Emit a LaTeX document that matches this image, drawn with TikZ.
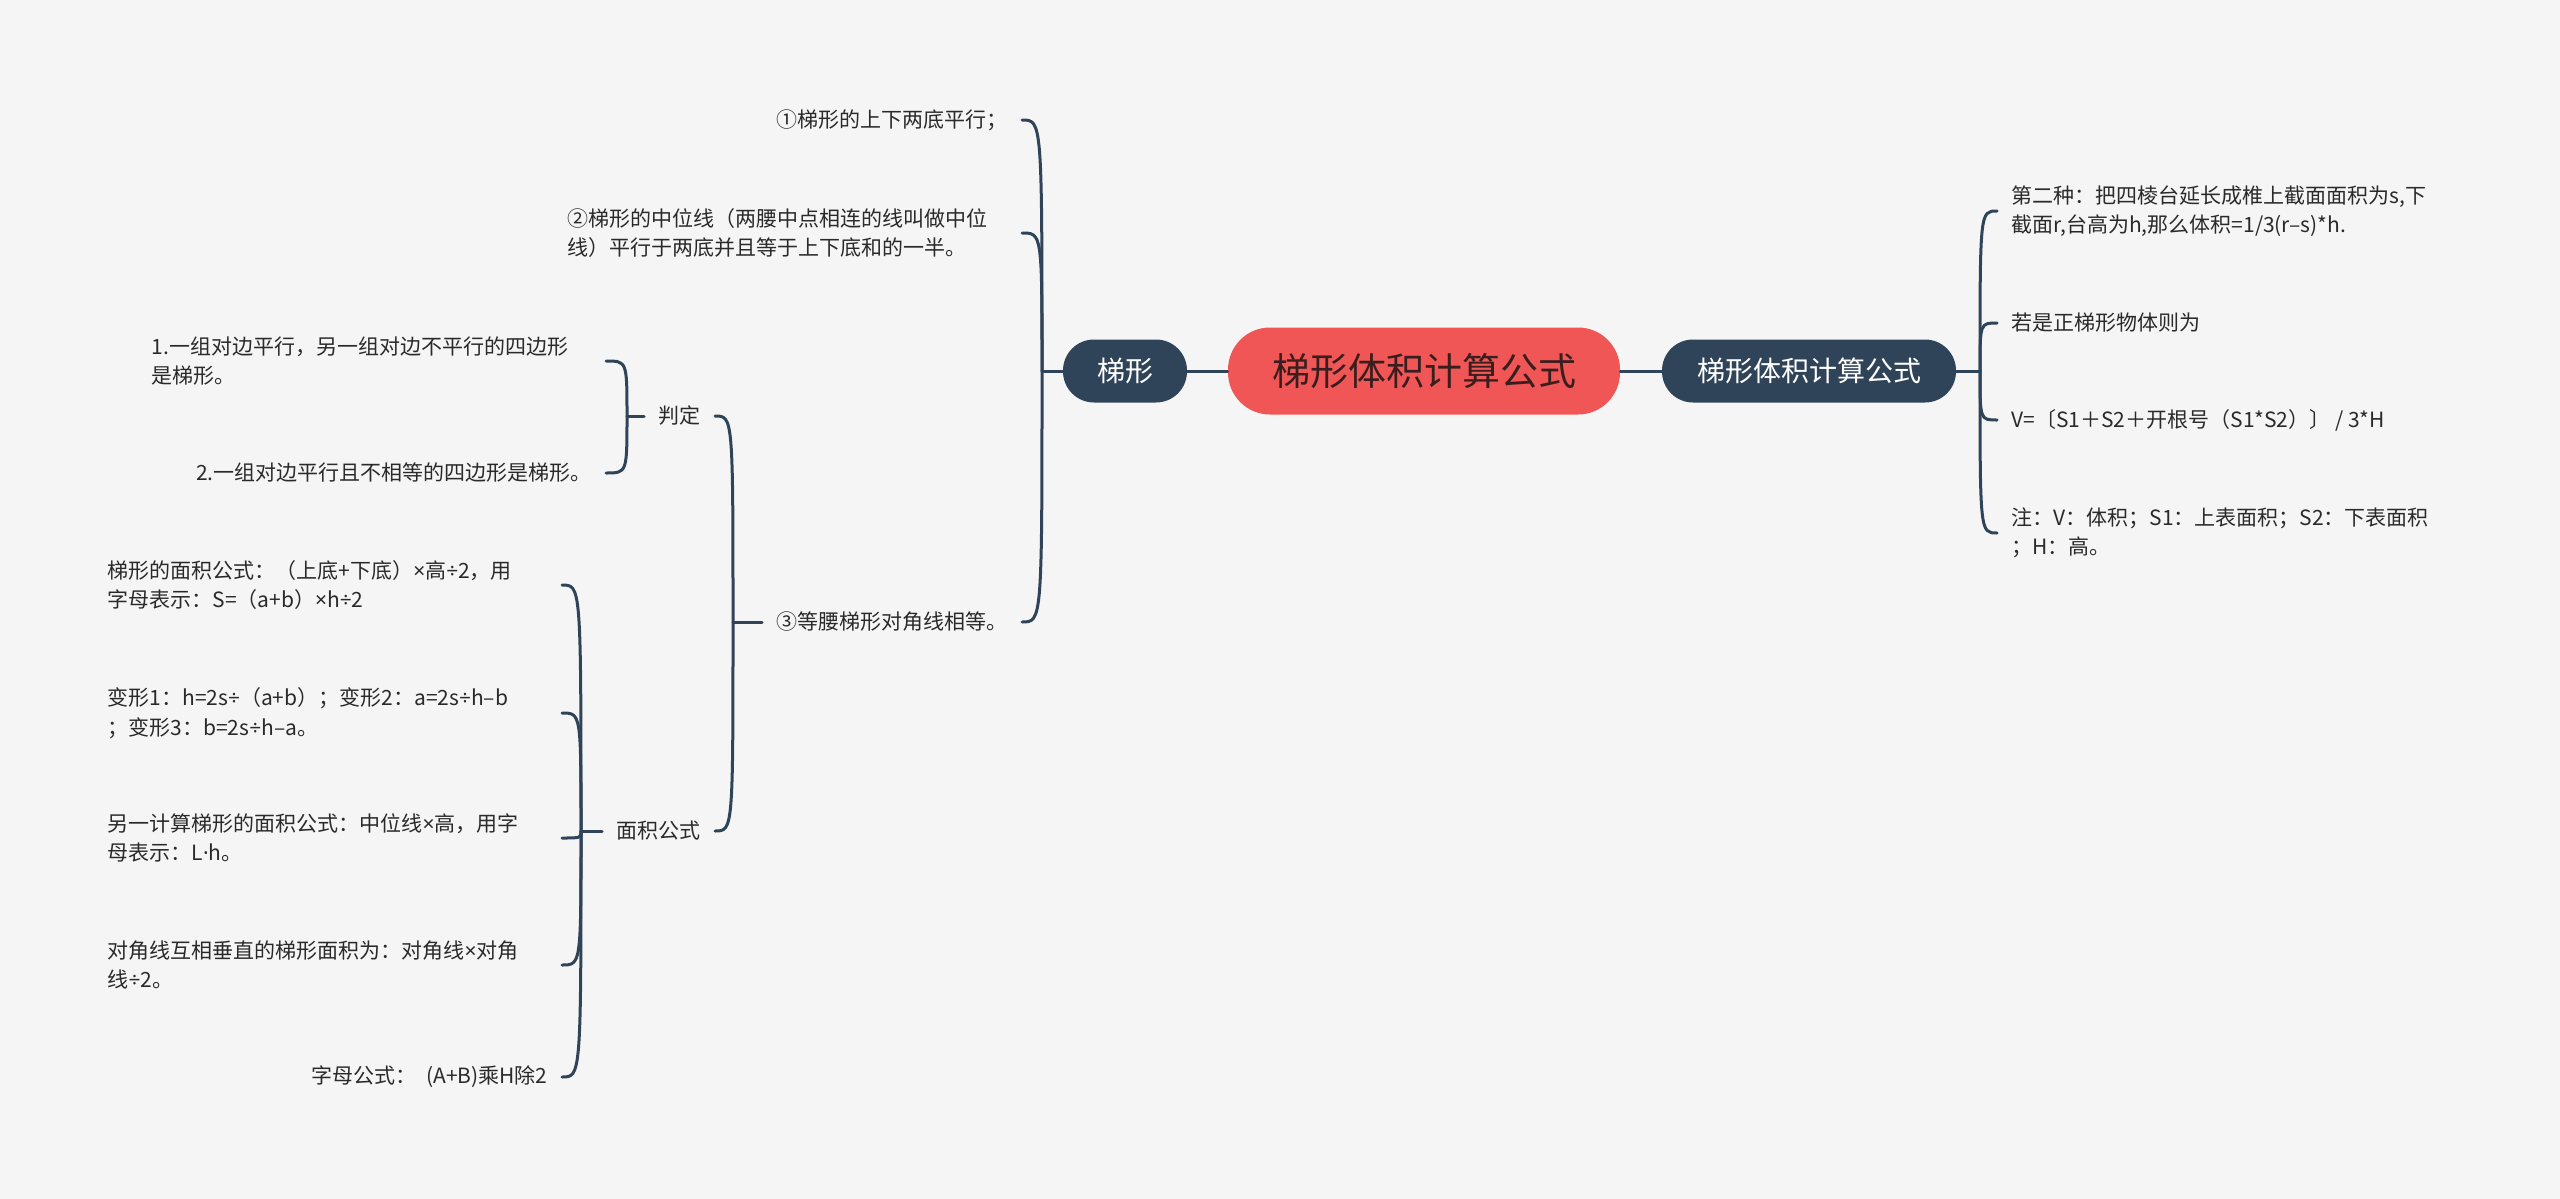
\documentclass[tikz,border=0pt]{standalone}
\usepackage{fontspec}
\newfontfamily\cjk{Noto Sans CJK SC}
\newfontfamily\lat{Noto Sans}
\usepackage{tikz}
\definecolor{bgcol}{HTML}{F5F5F5}
\definecolor{darkcol}{HTML}{2F4459}
\definecolor{rootcol}{HTML}{F05656}
\definecolor{roottext}{HTML}{3A1E1E}
\definecolor{txtcol}{HTML}{2A2A2A}
\newcommand{\mul}{{\lat ×}}
\newcommand{\dvd}{{\lat ÷}}

\begin{document}
\begin{tikzpicture}[x=0.5pt, y=-0.5pt,
    line/.style={draw=darkcol, line width=1.5pt, line cap=round},
    topic/.style={fill=darkcol, text=white, font=\cjk\fontsize{14}{16}\selectfont,
        rounded corners=15.5pt, minimum height=31.5pt, inner xsep=17pt},
    leaf/.style={text=txtcol, font=\cjk\fontsize{10.5}{14.7}\selectfont, inner xsep=7pt, inner ysep=2pt},
    wide/.style={leaf, text width=220pt, align=left}]
    \fill[bgcol] (0,0) rectangle (2560,1199);
    \useasboundingbox (0,0) rectangle (2560,1199);

    % main topics
    \node[fill=rootcol, text=roottext, font=\cjk\fontsize{19}{22}\selectfont, rounded corners=21pt,
        minimum width=196pt, minimum height=43.5pt] (root) at (1424,371) {梯形体积计算公式};
    \node[topic, minimum width=62pt] (tx) at (1125,371) {梯形};
    \node[topic, minimum width=147pt] (tj) at (1809,371) {梯形体积计算公式};

    % left side
    \node[leaf, anchor=east] (p1) at (1022,120) {①梯形的上下两底平行；};
    \node[wide, anchor=east] (p2) at (1022,233) {②梯形的中位线（两腰中点相连的线叫做中位\\线）平行于两底并且等于上下底和的一半。};
    \node[leaf, anchor=east] (p3) at (1022,622) {③等腰梯形对角线相等。};
    \node[leaf, anchor=east] (pd) at (715,416) {判定};
    \node[leaf, anchor=east] (mj) at (715,831) {面积公式};
    \node[wide, anchor=east] (j1) at (606,361) {1.一组对边平行，另一组对边不平行的四边形\\是梯形。};
    \node[leaf, anchor=east] (j2) at (606,473) {2.一组对边平行且不相等的四边形是梯形。};
    \node[wide, anchor=east] (m1) at (562,585) {梯形的面积公式：（上底+下底）\mul 高\dvd 2，用\\字母表示：S=（a+b）\mul h\dvd 2};
    \node[wide, anchor=east] (m2) at (562,713) {变形1：h=2s\dvd（a+b）；变形2：a=2s\dvd h–b\\；变形3：b=2s\dvd h–a。};
    \node[wide, anchor=east] (m3) at (562,838) {另一计算梯形的面积公式：中位线\mul 高，用字\\母表示：L{\lat ·}h。};
    \node[wide, anchor=east] (m4) at (562,965) {对角线互相垂直的梯形面积为：对角线\mul 对角\\线\dvd 2。};
    \node[leaf, anchor=east] (m5) at (562,1077) {字母公式：\ \ (A+B)乘H除2};

    % right side
    \node[wide, anchor=west] (v1) at (1997,211) {第二种：把四棱台延长成椎上截面面积为s,下\\截面r,台高为h,那么体积=1/3(r–s)*h.};
    \node[leaf, anchor=west] (v2) at (1997,323) {若是正梯形物体则为};
    \node[leaf, anchor=west] (v3) at (1997,420) {V=〔S1＋S2＋开根号（S1*S2）〕 / 3*H};
    \node[wide, anchor=west] (v4) at (1997,533) {注：V：体积；S1：上表面积；S2：下表面积\\；H：高。};

    % connectors
    \coordinate (txj) at (1042,371);
    \coordinate (tjj) at (1980,371);
    \coordinate (p3j) at (733,622);
    \coordinate (pdj) at (627,416);
    \coordinate (mjj) at (581,831);
    \draw[line] (root) -- (tx);
    \draw[line] (root) -- (tj);
    \draw[line] (tx.west) -- (txj);
    \foreach \n in {p1,p2,p3}
        \draw[line] (txj) .. controls (txj |- \n.east) .. (\n.east);
    \draw[line] (tj.east) -- (tjj);
    \foreach \n in {v1,v2,v3,v4}
        \draw[line] (tjj) .. controls (tjj |- \n.west) .. (\n.west);
    \draw[line] (p3.west) -- (p3j);
    \foreach \n in {pd,mj}
        \draw[line] (p3j) .. controls (p3j |- \n.east) .. (\n.east);
    \draw[line] (pd.west) -- (pdj);
    \foreach \n in {j1,j2}
        \draw[line] (pdj) .. controls (pdj |- \n.east) .. (\n.east);
    \draw[line] (mj.west) -- (mjj);
    \foreach \n in {m1,m2,m3,m4,m5}
        \draw[line] (mjj) .. controls (mjj |- \n.east) .. (\n.east);
\end{tikzpicture}
\end{document}
